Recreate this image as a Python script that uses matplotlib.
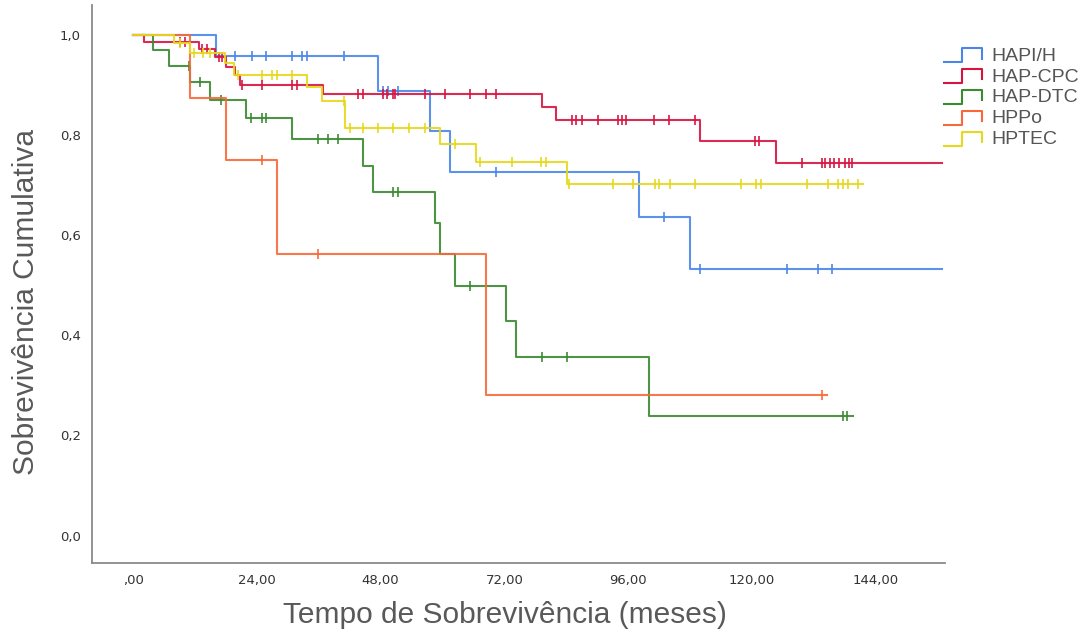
import numpy as np
import matplotlib
matplotlib.use("Agg")
import matplotlib.pyplot as plt
from matplotlib.lines import Line2D
from matplotlib.legend_handler import HandlerBase


# survival curves (months, cumulative survival)
groups = ["HAPI/H", "HAP-CPC", "HAP-DTC", "HPPo", "HPTEC"]
colors = ["#4a86e8", "#d6143f", "#3a8a30", "#f7693a", "#e6d81c"]

hapi_t = [0, 16.0, 47.5, 57.6, 61.4, 98.1, 108.0]
hapi_s = [1.0, 0.958, 0.888, 0.808, 0.727, 0.637, 0.532]
hapi_c = [19.8, 23.0, 25.8, 30.8, 32.8, 33.8, 40.8, 48.5, 49.5, 51.4, 70.3,
          103.0, 109.9, 126.8, 132.8, 135.6]
hapi_end = 157.0

cpc_t = [0, 2.0, 12.7, 15.9, 18.0, 19.8, 20.7, 36.9, 79.3, 82.1, 109.9, 124.7]
cpc_s = [1.0, 0.987, 0.973, 0.957, 0.937, 0.920, 0.901, 0.882, 0.857, 0.830,
         0.789, 0.744]
cpc_c = [9.1, 10.1, 13.3, 14.3, 16.6, 17.2, 21.1, 24.9, 30.8, 31.7, 43.7, 44.6,
         48.5, 49.2, 50.4, 50.8, 56.6, 60.5, 65.3, 68.5, 70.3, 85.2, 86.0, 87.0,
         90.2, 94.1, 94.9, 95.7, 101.0, 103.9, 108.9, 120.7, 121.5, 129.8,
         133.6, 134.3, 135.1, 136.0, 137.0, 138.0, 138.8, 139.5]
cpc_end = 157.0

dtc_t = [0, 3.9, 7.0, 11.0, 14.9, 21.9, 30.8, 44.6, 46.6, 58.5, 59.5, 62.4,
         72.3, 74.2, 100.1]
dtc_s = [1.0, 0.971, 0.939, 0.907, 0.870, 0.834, 0.792, 0.739, 0.686, 0.625,
         0.562, 0.499, 0.429, 0.357, 0.239]
dtc_c = [10.8, 13.0, 17.0, 22.8, 24.9, 25.8, 35.8, 37.7, 39.8, 50.4, 51.4,
         65.4, 79.3, 84.2, 137.7, 138.4]
dtc_end = 139.6

ppo_t = [0, 11.0, 18.0, 27.8, 68.4]
ppo_s = [1.0, 0.875, 0.75, 0.5625, 0.28125]
ppo_c = [24.9, 35.9, 133.7]
ppo_end = 134.6

ptec_t = [0, 8.0, 11.0, 17.8, 19.5, 33.7, 36.6, 41.1, 59.5, 66.5, 84.2]
ptec_s = [1.0, 0.985, 0.965, 0.945, 0.920, 0.897, 0.869, 0.814, 0.782, 0.746,
          0.702]
ptec_c = [9.0, 11.7, 13.6, 14.9, 20.4, 24.9, 26.9, 27.8, 30.8, 40.8, 42.0, 44.6,
          47.5, 50.4, 53.5, 56.6, 62.4, 67.2, 73.4, 79.2, 80.0, 84.5, 93.1,
          97.0, 101.2, 102.0, 104.1, 108.9, 118.0, 120.9, 121.8, 130.7, 134.7,
          136.7, 137.7, 138.6, 140.6]
ptec_end = 141.5

curves = [
    (hapi_t, hapi_s, hapi_c, hapi_end),
    (cpc_t, cpc_s, cpc_c, cpc_end),
    (dtc_t, dtc_s, dtc_c, dtc_end),
    (ppo_t, ppo_s, ppo_c, ppo_end),
    (ptec_t, ptec_s, ptec_c, ptec_end),
]

xticks = [0, 24, 48, 72, 96, 120, 144]
xtick_labels = [",00", "24,00", "48,00", "72,00", "96,00", "120,00", "144,00"]
yticks = [0.0, 0.2, 0.4, 0.6, 0.8, 1.0]
ytick_labels = ["0,0", "0,2", "0,4", "0,6", "0,8", "1,0"]


class StepHandler(HandlerBase):
    # legend key drawn as a little step, like SPSS does
    def create_artists(self, legend, orig_handle, xdescent, ydescent,
                       width, height, fontsize, trans):
        xs = np.array([0, 0.47, 0.47, 1, 1]) * width - xdescent
        ys = np.array([-0.1, -0.1, 0.9, 0.9, 0.15]) * height - ydescent
        ln = Line2D(xs, ys, color=orig_handle.get_color(), lw=1.5)
        ln.set_transform(trans)
        return [ln]


fig = plt.figure(figsize=(10.86, 6.35), dpi=100)
ax = fig.add_axes([0.0847, 0.114, 0.7855, 0.878])

handles = []
for (t, s, c, end), col, name in zip(curves, colors, groups):
    xs = list(t) + [end]
    ys = list(s) + [s[-1]]
    line, = ax.step(xs, ys, where="post", color=col, lw=1.5, alpha=0.9,
                    label=name)
    idx = np.searchsorted(t, c, side="right") - 1
    cy = np.array(s)[idx]
    ax.plot(c, cy, ls="none", marker="|", ms=6.5, mew=1.3, color=col,
            alpha=0.9)
    handles.append(line)

ax.set_xlim(-8, 157.5)
ax.set_ylim(-0.054, 1.06)
ax.set_xticks(xticks)
ax.set_xticklabels(xtick_labels)
ax.set_yticks(yticks)
ax.set_yticklabels(ytick_labels)
ax.tick_params(length=0, labelsize=9.5, labelcolor="#333333", pad=8)

for side in ["top", "right"]:
    ax.spines[side].set_visible(False)
for side in ["left", "bottom"]:
    ax.spines[side].set_color("#8a8a8a")
    ax.spines[side].set_linewidth(1.3)

ax.set_xlabel("Tempo de Sobrevivência (meses)", fontsize=21.5,
              family="Liberation Sans", color="#595959", va="center")
ax.set_ylabel("Sobrevivência Cumulativa", fontsize=21.5,
              family="Liberation Sans", color="#595959", va="center")
ax.xaxis.set_label_coords(0.484, -0.094)
ax.yaxis.set_label_coords(-0.077, 0.468)

leg = fig.legend(handles=handles, labels=groups, loc="upper left",
                 bbox_to_anchor=(944 / 1086, 1 - 47 / 635), frameon=False,
                 handler_map={Line2D: StepHandler()}, handlelength=1.95,
                 handletextpad=0.5, labelspacing=0.17, borderpad=0,
                 borderaxespad=0,
                 prop={"family": "Liberation Sans", "size": 14})
for txt in leg.get_texts():
    txt.set_color("#555555")

fig.savefig("out.png", dpi=100)
